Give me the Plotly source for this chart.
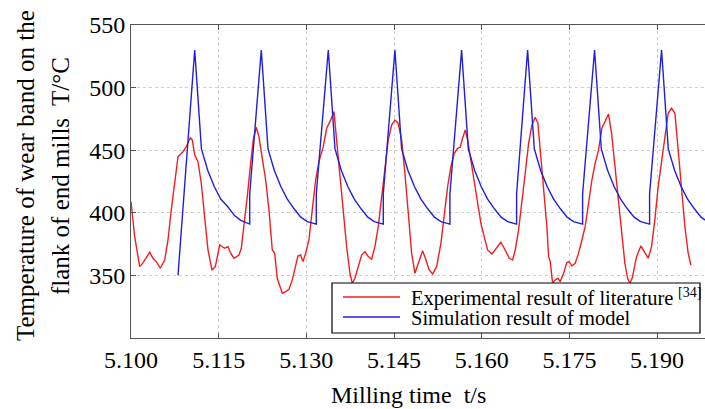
import plotly.graph_objects as go

# ---------------- data ----------------
exp_t = [5.10000, 5.10063, 5.10149, 5.10205, 5.10320, 5.10376, 5.10433, 5.10501, 5.10576, 5.10633,
         5.10689, 5.10747, 5.10804, 5.10889, 5.10946, 5.11014, 5.11048, 5.11090, 5.11146, 5.11202,
         5.11261, 5.11317, 5.11385, 5.11442, 5.11517, 5.11603, 5.11659, 5.11705, 5.11762, 5.11847,
         5.11887, 5.11933, 5.11989, 5.12047, 5.12092, 5.12143, 5.12189, 5.12246, 5.12304, 5.12360,
         5.12417, 5.12458, 5.12502, 5.12560, 5.12588, 5.12646, 5.12702, 5.12759, 5.12817, 5.12856,
         5.12903, 5.12942, 5.12988, 5.13044, 5.13101, 5.13159, 5.13216, 5.13289, 5.13347, 5.13404,
         5.13472, 5.13518, 5.13575, 5.13631, 5.13689, 5.13746, 5.13785, 5.13831, 5.13888, 5.13946,
         5.14002, 5.14059, 5.14117, 5.14173, 5.14230, 5.14288, 5.14344, 5.14401, 5.14459, 5.14515,
         5.14572, 5.14630, 5.14686, 5.14743, 5.14801, 5.14858, 5.14931, 5.14989, 5.15046, 5.15102,
         5.15160, 5.15229, 5.15302, 5.15359, 5.15417, 5.15473, 5.15530, 5.15588, 5.15632, 5.15673,
         5.15718, 5.15759, 5.15815, 5.15872, 5.15930, 5.15986, 5.16043, 5.16101, 5.16175, 5.16243,
         5.16328, 5.16385, 5.16471, 5.16529, 5.16573, 5.16631, 5.16688, 5.16744, 5.16802, 5.16859,
         5.16915, 5.16961, 5.17001, 5.17059, 5.17115, 5.17144, 5.17172, 5.17213, 5.17257, 5.17303,
         5.17343, 5.17401, 5.17457, 5.17497, 5.17543, 5.17599, 5.17657, 5.17714, 5.17770, 5.17828,
         5.17885, 5.17941, 5.17999, 5.18056, 5.18112, 5.18170, 5.18222, 5.18278, 5.18335, 5.18393,
         5.18449, 5.18496, 5.18535, 5.18574, 5.18649, 5.18723, 5.18791, 5.18848, 5.18906, 5.18962,
         5.19019, 5.19077, 5.19134, 5.19190, 5.19248, 5.19305, 5.19361, 5.19419, 5.19476, 5.19532,
         5.19578]
exp_T = [409, 381, 357, 360, 368.5, 363.7, 361, 355.7, 362.3, 378.3,
         402.3, 426.2, 444.8, 448.8, 452.8, 460, 458.2, 446.2, 440.9, 423.6,
         396.9, 370.3, 354.3, 357, 374.3, 371.7, 373, 367.7, 363.7, 366.3,
         371.7, 388.9, 412.9, 439.5, 458.2, 468.3, 460.8, 443.5, 426.2, 402.3,
         370.3, 367.7, 347.7, 339.7, 335.7, 337, 338.9, 346.4, 357, 365.5,
         366.3, 361, 367.7, 378.3, 402.3, 426.2, 440.9, 452.8, 467.5, 472.8,
         480.8, 458.2, 431.6, 402.3, 373, 351.7, 343.7, 347.7, 357, 366.3,
         369, 365, 362.9, 373, 388.9, 412.9, 436.8, 458.2, 470.1, 474.1,
         471.5, 458.2, 431.6, 399.6, 367.7, 351.7, 362.3, 369.8, 362.3, 354.3,
         351.1, 357, 375.6, 399.6, 420.9, 436.8, 447.5, 451.5, 452.3, 459.5,
         466.1, 458.2, 442.2, 426.2, 410.2, 391.6, 381, 370.3, 367.1, 371.7,
         376.5, 371.7, 363.7, 362.3, 370.3, 386.3, 407.6, 431.6, 455.5, 470.1,
         476.3, 471.5, 450.2, 418.2, 388.9, 365, 361, 343.7, 346.4, 347.7,
         345, 351.7, 360.2, 361, 357.5, 359.7, 367.7, 378.3, 388.9, 407.6,
         426.2, 439.5, 450.2, 467.5, 472.8, 478.9, 463.5, 436.8, 410.2, 383.6,
         359.7, 347.7, 343.7, 347.7, 365, 373.5, 367.7, 363.7, 373, 394.3,
         420.9, 442.2, 463.5, 479.5, 483.5, 479.5, 450.2, 418.2, 388.9, 367.7,
         358.3]

sim_t = [5.10804,
         5.11090, 5.11205, 5.11312, 5.11424, 5.11535, 5.11654, 5.11766, 5.11877, 5.12031, 5.12031,
         5.12229, 5.12344, 5.12451, 5.12563, 5.12674, 5.12793, 5.12905, 5.13016, 5.13170, 5.13170,
         5.13375, 5.13490, 5.13597, 5.13709, 5.13820, 5.13939, 5.14051, 5.14162, 5.14316, 5.14316,
         5.14515, 5.14630, 5.14737, 5.14849, 5.14960, 5.15079, 5.15191, 5.15302, 5.15456, 5.15456,
         5.15656, 5.15771, 5.15878, 5.15990, 5.16101, 5.16220, 5.16332, 5.16443, 5.16597, 5.16597,
         5.16785, 5.16900, 5.17007, 5.17119, 5.17230, 5.17349, 5.17461, 5.17572, 5.17726, 5.17726,
         5.17931, 5.18046, 5.18153, 5.18265, 5.18376, 5.18495, 5.18607, 5.18718, 5.18872, 5.18872,
         5.19077, 5.19192, 5.19299, 5.19411, 5.19522, 5.19641, 5.19753, 5.19864]
sim_T = [350,
         530, 451, 434, 421, 411, 405, 398, 394, 391, 415,
         530, 451, 434, 421, 411, 403, 396.5, 393, 391, 415,
         530, 451, 434, 421, 411, 403, 396.5, 393, 391, 415,
         530, 451, 434, 421, 411, 403, 396.5, 393, 391, 415,
         530, 451, 434, 421, 411, 403, 396.5, 393, 391, 415,
         530, 451, 434, 421, 411, 403, 396.5, 393, 391, 415,
         530, 451, 434, 421, 411, 403, 396.5, 393, 391, 415,
         530, 451, 434, 421, 411, 403, 396.5, 393]

x_ticks = [5.100, 5.115, 5.130, 5.145, 5.160, 5.175, 5.190]
x_labels = ["5.100", "5.115", "5.130", "5.145", "5.160", "5.175", "5.190"]
y_ticks = [350, 400, 450, 500, 550]
y_labels = ["350", "400", "450", "500", "550"]

series_names = ["Experimental result of literature", "Simulation result of model"]
ref_mark = "[34]"
red = "#f01f1f"
blue = "#1f1fdc"
FONT = "Liberation Serif, Times New Roman, serif"

fig = go.Figure()
fig.add_trace(go.Scatter(x=exp_t, y=exp_T, mode="lines", line=dict(color=red, width=1.4),
                         showlegend=False))
fig.add_trace(go.Scatter(x=sim_t, y=sim_T, mode="lines", line=dict(color=blue, width=1.4),
                         showlegend=False))

axis_common = dict(
    showgrid=True, gridcolor="#cfcfcf", griddash="dot", gridwidth=1,
    showline=True, linecolor="#555555", linewidth=1,
    ticks="inside", ticklen=5, tickcolor="#555555",
    zeroline=False, tickfont=dict(family=FONT, size=24, color="black"),
)
fig.update_xaxes(range=[5.1, 5.1982], tickvals=x_ticks, ticktext=x_labels, mirror="ticks",
                 **axis_common)
fig.update_yaxes(range=[300, 550], tickvals=y_ticks, ticktext=y_labels, mirror=False,
                 **axis_common)

# manual legend (paper coordinates)
W, H, L, B = 705, 409, 131, 71
def px(xp):
    return (xp - L) / (W - L)
def py(yp):
    return (H - B - yp) / (H - B - 25)

shapes = [
    dict(type="rect", xref="paper", yref="paper", x0=px(332), x1=px(700), y0=py(333), y1=py(283),
         line=dict(color="black", width=1.2), fillcolor="white", layer="above"),
    dict(type="line", xref="paper", yref="paper", x0=px(343), x1=px(400), y0=py(297), y1=py(297),
         line=dict(color=red, width=1.4), layer="above"),
    dict(type="line", xref="paper", yref="paper", x0=px(343), x1=px(400), y0=py(317), y1=py(317),
         line=dict(color=blue, width=1.4), layer="above"),
]
annotations = [
    dict(xref="paper", yref="paper", x=px(409), y=py(298), xanchor="left", yanchor="middle",
         text=series_names[0], showarrow=False, font=dict(family=FONT, size=20.5, color="black")),
    dict(xref="paper", yref="paper", x=px(676), y=py(292), xanchor="left", yanchor="middle",
         text=ref_mark, showarrow=False, font=dict(family=FONT, size=14, color="black")),
    dict(xref="paper", yref="paper", x=px(409), y=py(318), xanchor="left", yanchor="middle",
         text=series_names[1], showarrow=False, font=dict(family=FONT, size=20.5, color="black")),
    dict(xref="paper", yref="paper", x=px(408), y=py(395), xanchor="center", yanchor="middle",
         text="Milling time  t/s", showarrow=False, font=dict(family=FONT, size=24, color="black")),
    dict(xref="paper", yref="paper", x=px(25), y=py(176), xanchor="center", yanchor="middle",
         text="Temperature of wear band on the", textangle=-90, showarrow=False,
         font=dict(family=FONT, size=25, color="black")),
    dict(xref="paper", yref="paper", x=px(60), y=py(176), xanchor="center", yanchor="middle",
         text="flank of end mills  T/°C", textangle=-90, showarrow=False,
         font=dict(family=FONT, size=25, color="black")),
]

fig.update_layout(
    width=W, height=H,
    margin=dict(l=L, r=0, t=25, b=B),
    paper_bgcolor="white", plot_bgcolor="white",
    shapes=shapes, annotations=annotations,
    showlegend=False,
)
fig.write_html("out.html")
